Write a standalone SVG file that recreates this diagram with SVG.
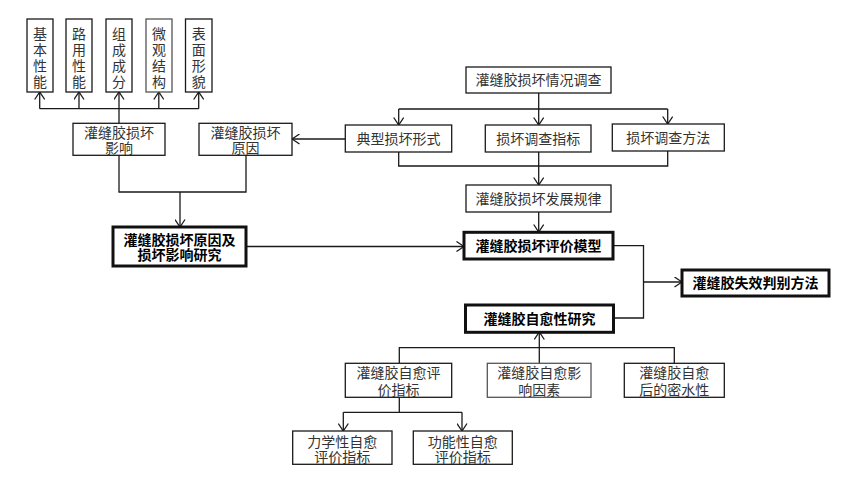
<svg xmlns="http://www.w3.org/2000/svg" width="856" height="482" viewBox="0 0 856 482">
<defs>
<style>
.b{fill:#fff;stroke:#1a1a1a;stroke-width:1.3}
.bg{fill:#fff;stroke:#555;stroke-width:1.3}
.tb{fill:#fff;stroke:#111;stroke-width:3}
.t{font-family:"Liberation Sans","Noto Sans CJK SC",sans-serif;font-size:14px;fill:#333;text-anchor:middle}
.bd{font-weight:bold;fill:#000;font-size:14px}
.c{fill:none;stroke:#1a1a1a;stroke-width:1.3}
</style>
<marker id="ah" markerUnits="userSpaceOnUse" markerWidth="9" markerHeight="11" viewBox="0 0 9 11" refX="8" refY="5.5" orient="auto">
<path d="M0.5,0.5 L8,5.5 L0.5,10.5" fill="none" stroke="#1a1a1a" stroke-width="1.3"/>
</marker>
</defs>
<rect width="856" height="482" fill="#fff"/>

<g id="connectors">
<path class="c" d="M39.7,108.7 H198.7"/>
<path class="c" marker-end="url(#ah)" d="M39.7,108.7 V92"/>
<path class="c" marker-end="url(#ah)" d="M79,108.7 V92"/>
<path class="c" marker-end="url(#ah)" d="M119,123 V92"/>
<path class="c" marker-end="url(#ah)" d="M158.8,108.7 V92"/>
<path class="c" marker-end="url(#ah)" d="M198.7,108.7 V92"/>
<path class="c" d="M119,155 V192 H246 V155"/>
<path class="c" marker-end="url(#ah)" d="M180,192 V227"/>
<path class="c" marker-end="url(#ah)" d="M345,139 H292"/>
<path class="c" marker-end="url(#ah)" d="M246,246.5 H464"/>
<path class="c" d="M538.7,93 V109 M398.7,109 H667.7"/>
<path class="c" marker-end="url(#ah)" d="M398.7,109 V125"/>
<path class="c" marker-end="url(#ah)" d="M538.7,109 V125"/>
<path class="c" marker-end="url(#ah)" d="M667.7,109 V124"/>
<path class="c" d="M398.7,152 V166 H667.7 V151"/>
<path class="c" marker-end="url(#ah)" d="M538.7,152 V185"/>
<path class="c" marker-end="url(#ah)" d="M538.7,212 V232"/>
<path class="c" d="M613,245.7 H643.5 V318 H614"/>
<path class="c" marker-end="url(#ah)" d="M643.5,282 H682"/>
<path class="c" d="M399.3,363 V347.7 H674.3 V363"/>
<path class="c" marker-end="url(#ah)" d="M539.3,363 V332"/>
<path class="c" d="M399.3,397 V412.3 M343.3,412.3 H462"/>
<path class="c" marker-end="url(#ah)" d="M343.3,412.3 V431"/>
<path class="c" marker-end="url(#ah)" d="M462,412.3 V431"/>
</g>

<g id="n_jbxn"><rect class="b" x="27" y="19" width="26" height="73"/>
<text class="t"><tspan x="40" y="38.5">基</tspan><tspan x="40" y="55">本</tspan><tspan x="40" y="71">性</tspan><tspan x="40" y="87.3">能</tspan></text></g>
<g id="n_lyxn"><rect class="b" x="66" y="19" width="26" height="73"/>
<text class="t"><tspan x="79" y="38.5">路</tspan><tspan x="79" y="55">用</tspan><tspan x="79" y="71">性</tspan><tspan x="79" y="87.3">能</tspan></text></g>
<g id="n_zccf"><rect class="b" x="106" y="19" width="26" height="73"/>
<text class="t"><tspan x="119" y="38.5">组</tspan><tspan x="119" y="55">成</tspan><tspan x="119" y="71">成</tspan><tspan x="119" y="87.3">分</tspan></text></g>
<g id="n_wgjg"><rect class="bg" x="146" y="19" width="26" height="73"/>
<text class="t"><tspan x="159" y="38.5">微</tspan><tspan x="159" y="55">观</tspan><tspan x="159" y="71">结</tspan><tspan x="159" y="87.3">构</tspan></text></g>
<g id="n_bmxm"><rect class="b" x="185.5" y="19" width="26.5" height="73"/>
<text class="t"><tspan x="198.7" y="38.5">表</tspan><tspan x="198.7" y="55">面</tspan><tspan x="198.7" y="71">形</tspan><tspan x="198.7" y="87.3">貌</tspan></text></g>

<g id="n_yx"><rect class="b" x="73" y="123.3" width="92" height="32"/>
<text class="t"><tspan x="119" y="138.3">灌缝胶损坏</tspan><tspan x="119" y="153.3">影响</tspan></text></g>
<g id="n_yy"><rect class="b" x="199" y="123.3" width="93" height="32"/>
<text class="t"><tspan x="245.5" y="138.3">灌缝胶损坏</tspan><tspan x="245.5" y="153.3">原因</tspan></text></g>
<g id="n_yjyy"><rect class="tb" x="113" y="227" width="133" height="39"/>
<text class="t bd"><tspan x="179.5" y="245">灌缝胶损坏原因及</tspan><tspan x="179.5" y="260">损坏影响研究</tspan></text></g>

<g id="n_dc"><rect class="b" x="466" y="67" width="145" height="26"/>
<text class="t" x="538.5" y="85">灌缝胶损坏情况调查</text></g>
<g id="n_dx"><rect class="b" x="345.3" y="125" width="106.4" height="27"/>
<text class="t" x="398.5" y="143.5">典型损坏形式</text></g>
<g id="n_zb"><rect class="b" x="485.3" y="125" width="105.7" height="27"/>
<text class="t" x="538.2" y="143.5">损坏调查指标</text></g>
<g id="n_ff"><rect class="b" x="612.3" y="124" width="112" height="27"/>
<text class="t" x="668.3" y="142.5">损坏调查方法</text></g>
<g id="n_gl"><rect class="b" x="466" y="185" width="145" height="27"/>
<text class="t" x="538.5" y="203.5">灌缝胶损坏发展规律</text></g>

<g id="n_pj"><rect class="tb" x="464" y="232.3" width="149" height="26.7"/>
<text class="t bd" x="538.5" y="250.7">灌缝胶损坏评价模型</text></g>
<g id="n_zyx"><rect class="tb" x="465.5" y="305" width="148" height="27.3"/>
<text class="t bd" x="539.5" y="323.5">灌缝胶自愈性研究</text></g>
<g id="n_sx"><rect class="tb" x="682" y="270" width="147" height="26"/>
<text class="t bd" x="755.5" y="288">灌缝胶失效判别方法</text></g>

<g id="n_zypj"><rect class="b" x="345.3" y="363.3" width="106.4" height="34"/>
<text class="t"><tspan x="398.5" y="378.3">灌缝胶自愈评</tspan><tspan x="398.5" y="395">价指标</tspan></text></g>
<g id="n_zyyx"><rect class="bg" x="487.3" y="363.3" width="103.7" height="34"/>
<text class="t"><tspan x="539.2" y="378.3">灌缝胶自愈影</tspan><tspan x="539.2" y="394.5">响因素</tspan></text></g>
<g id="n_msx"><rect class="b" x="624.3" y="363.3" width="100" height="34"/>
<text class="t"><tspan x="674.3" y="378.3">灌缝胶自愈</tspan><tspan x="674.3" y="394.5">后的密水性</tspan></text></g>

<g id="n_lx"><rect class="b" x="292.7" y="431" width="99.3" height="33.3"/>
<text class="t"><tspan x="342.3" y="446.7">力学性自愈</tspan><tspan x="342.3" y="461.7">评价指标</tspan></text></g>
<g id="n_gn"><rect class="b" x="413.3" y="431" width="99" height="33.3"/>
<text class="t"><tspan x="462.8" y="446.7">功能性自愈</tspan><tspan x="462.8" y="461.7">评价指标</tspan></text></g>
</svg>
